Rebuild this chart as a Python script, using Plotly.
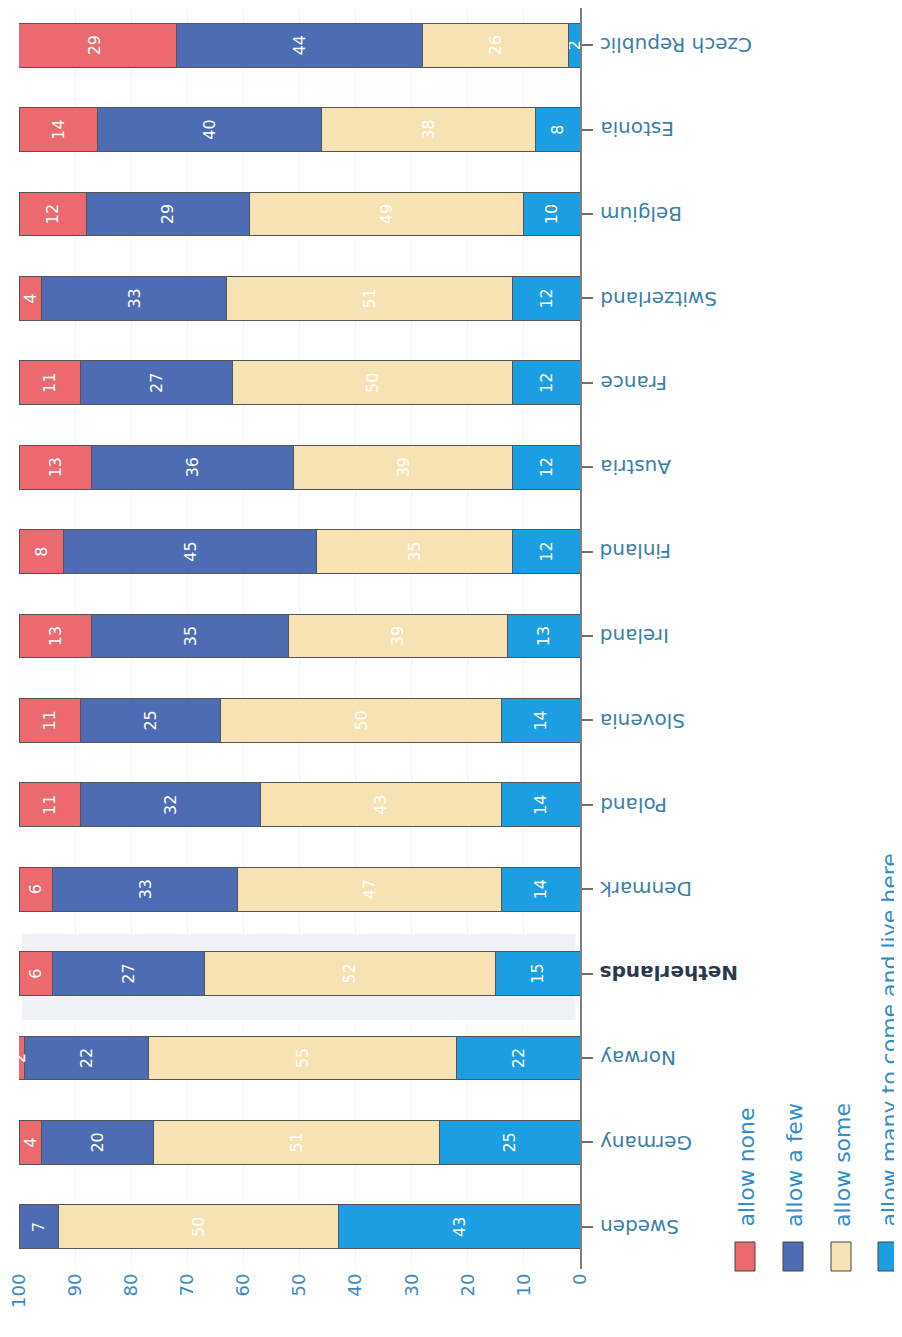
import plotly.graph_objects as go

countries = ["Sweden", "Germany", "Norway", "Netherlands", "Denmark", "Poland",
             "Slovenia", "Ireland", "Finland", "Austria", "France", "Switzerland",
             "Belgium", "Estonia", "Czech Republic"]
allow_none = [0, 4, 2, 6, 6, 11, 11, 13, 8, 13, 11, 4, 12, 14, 29]
allow_few = [7, 20, 22, 27, 33, 32, 25, 35, 45, 36, 27, 33, 29, 40, 44]
allow_some = [50, 51, 55, 52, 47, 43, 50, 39, 35, 39, 50, 51, 49, 38, 26]
allow_many = [43, 25, 22, 15, 14, 14, 14, 13, 12, 12, 12, 12, 10, 8, 2]
x_ticks = [0, 10, 20, 30, 40, 50, 60, 70, 80, 90, 100]
legend_labels = ["allow none", "allow a few", "allow some", "allow many to come and live here"]

C_NONE = "#ea6a70"
C_FEW = "#4d6cb4"
C_SOME = "#f6e2b2"
C_MANY = "#1c9fe2"

OFF = 8                      # page body margin
W, H = 902 - OFF, 1337 - OFF
PX0, PX1 = 19, 580           # plot area left/right (page pixels)
PY1 = 1269                   # plot area bottom (page pixels)
MT = 0
PLOT_H = PY1 - OFF - MT
SPACING = 84.4
Y_TOP = -0.5 + PLOT_H / SPACING


def px(x):
    return (x - PX0) / (PX1 - PX0)


def py(y):
    return (PY1 - y) / PLOT_H


fig = go.Figure()

series = [
    (legend_labels[3], allow_many, C_MANY),
    (legend_labels[2], allow_some, C_SOME),
    (legend_labels[1], allow_few, C_FEW),
    (legend_labels[0], allow_none, C_NONE),
]
for name, vals, col in series:
    fig.add_trace(go.Bar(
        y=countries, x=vals, orientation="h", name=name,
        marker=dict(color=col, line=dict(color="#555555", width=1)),
        text=[str(v) if v > 0 else "" for v in vals],
        textposition="inside", insidetextanchor="middle",
        textangle=-90,
        textfont=dict(family="DejaVu Sans", size=16, color="white"),
        showlegend=False, hoverinfo="skip",
    ))

fig.update_layout(
    width=W, height=H, autosize=False,
    margin=dict(l=PX0 - OFF, r=W - (PX1 - OFF), t=MT, b=H - (PY1 - OFF), pad=0),
    paper_bgcolor="white", plot_bgcolor="white",
    barmode="stack", bargap=0.48,
    uniformtext=dict(minsize=16, mode="show"),
    font=dict(family="DejaVu Sans"),
    xaxis=dict(
        range=[100, 0], tickvals=x_ticks, ticktext=[str(v) for v in x_ticks],
        tickangle=-90, tickfont=dict(size=18, color="#3a8ac2"),
        ticklabeloverflow="allow",
        showgrid=True, gridcolor="#f3f3f3", gridwidth=1,
        zeroline=False, showline=False, ticks="", automargin=False,
    ),
    yaxis=dict(
        side="right", type="category", range=[-0.5, Y_TOP],
        showticklabels=False, automargin=False,
        showline=True, linecolor="#808080", linewidth=1.5,
        ticks="outside", ticklen=11, tickcolor="#707070", tickwidth=1.5,
        showgrid=False, zeroline=False,
    ),
)

# country labels (upside down, as in the rotated page)
for c in countries:
    if c == "Netherlands":
        txt = "<b>Netherlands</b>"
        col = "#2a3a4e"
    else:
        txt = c
        col = "#3a7fa8"
    fig.add_annotation(xref="paper", yref="y", x=px(598), y=c, text=txt,
                       textangle=180, showarrow=False, xanchor="left", yanchor="middle",
                       font=dict(family="DejaVu Sans", size=20, color=col))

# faint highlight band around the Netherlands bar
fig.add_shape(type="rect", xref="x", yref="y", x0=99.5, x1=0.8, y0=2.45, y1=3.47,
              fillcolor="#eef1f6", line=dict(width=0), layer="below")

# custom rotated legend
leg_cols = [C_NONE, C_FEW, C_SOME, C_MANY]
leg_x = [745, 793, 841, 888]
for lab, col, cx in zip(legend_labels, leg_cols, leg_x):
    fig.add_shape(type="rect", xref="paper", yref="paper",
                  x0=px(cx - 10), x1=px(cx + 10), y0=py(1271), y1=py(1242),
                  fillcolor=col, line=dict(color="#444444", width=1))
    fig.add_annotation(xref="paper", yref="paper", x=px(cx + 1), y=py(1228),
                       text=lab, textangle=-90, showarrow=False,
                       xanchor="center", yanchor="bottom", borderpad=0,
                       font=dict(family="DejaVu Sans", size=22, color="#2f8dcc"))

fig.write_html("out.html")
